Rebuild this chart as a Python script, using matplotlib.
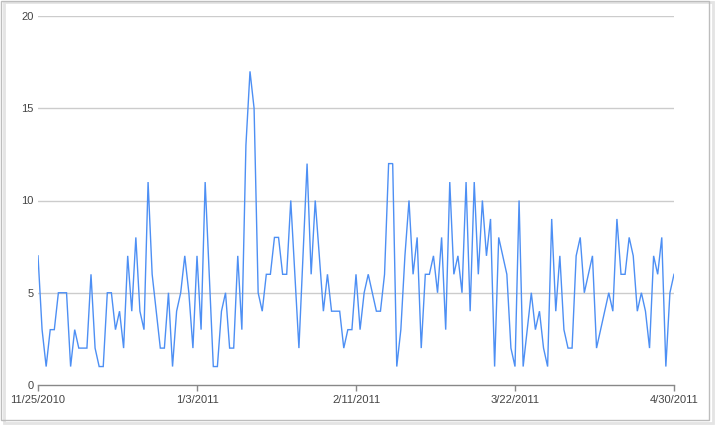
import numpy as np
import pandas as pd
import matplotlib
matplotlib.use("Agg")
import matplotlib.pyplot as plt
from matplotlib.patches import Rectangle

plt.rcParams['font.family'] = ['Liberation Sans', 'DejaVu Sans']

# daily values, 11/25/2010 .. 4/30/2011
start_date = "2010-11-25"
counts = [
    7, 3, 1, 3, 3, 5, 5, 5, 1, 3, 2, 2, 2, 6,
    2, 1, 1, 5, 5, 3, 4, 2, 7, 4, 8, 4, 3,
    11, 6, 4, 2, 2, 5, 1, 4, 5, 7, 5, 2, 7,
    3, 11, 6, 1, 1, 4, 5, 2, 2, 7, 3, 13, 17, 15,
    5, 4, 6, 6, 8, 8, 6, 6, 10, 6, 2, 7, 12,
    6, 10, 7, 4, 6, 4, 4, 4, 2, 3, 3, 6, 3,
    5, 6, 5, 4, 4, 6, 12, 12, 1, 3, 7, 10, 6, 8,
    2, 6, 6, 7, 5, 8, 3, 11, 6, 7, 5, 11, 4, 11,
    6, 10, 7, 9, 1, 8, 7, 6, 2, 1, 10, 1,
    3, 5, 3, 4, 2, 1, 9, 4, 7, 3, 2, 2, 7, 8,
    5, 6, 7, 2, 3, 4, 5, 4, 9, 6, 6, 8, 7, 4,
    5, 4, 2, 7, 6, 8, 1, 5, 6,
]
dates = pd.date_range(start_date, periods=len(counts), freq="D")
tick_dates = ["2010-11-25", "2011-01-03", "2011-02-11", "2011-03-22", "2011-04-30"]
tick_labels = ["11/25/2010", "1/3/2011", "2/11/2011", "3/22/2011", "4/30/2011"]
y_ticks = [0, 5, 10, 15, 20]

fig = plt.figure(figsize=(7.15, 4.25), dpi=100)
ax = fig.add_axes([38 / 715, 40 / 425, 636 / 715, 369 / 425])

ax.plot(dates, counts, color="#4d8ff4", linewidth=1.0, solid_joinstyle="miter")

ax.set_xlim(dates[0], dates[-1])
ax.set_ylim(0, 20)
ax.set_yticks(y_ticks)
ax.set_yticklabels([str(v) for v in y_ticks])
ax.set_xticks(pd.to_datetime(tick_dates))
ax.set_xticklabels(tick_labels)

for v in y_ticks[1:]:
    ax.axhline(v, color="#cccccc", linewidth=1, zorder=0)
ax.axhline(0, color="#888888", linewidth=1, zorder=1, clip_on=False)

for s in ax.spines.values():
    s.set_visible(False)
ax.tick_params(axis="y", length=0, pad=3, labelsize=8, labelcolor="#444444")
ax.tick_params(axis="x", length=4, width=1, color="#888888", pad=3,
               labelsize=8, labelcolor="#444444")

# screenshot frame with a soft shadow
fig.patches.append(Rectangle((4 / 715, 2 / 425), 709 / 715, 421 / 425,
                             transform=fig.transFigure, facecolor="none",
                             edgecolor="#e4e4e4", linewidth=2, zorder=-1))
fig.patches.append(Rectangle((1 / 715, 5 / 425), 708 / 715, 419 / 425,
                             transform=fig.transFigure, facecolor="none",
                             edgecolor="#bdbdbd", linewidth=1, zorder=0))

fig.savefig("out.png", dpi=100)
